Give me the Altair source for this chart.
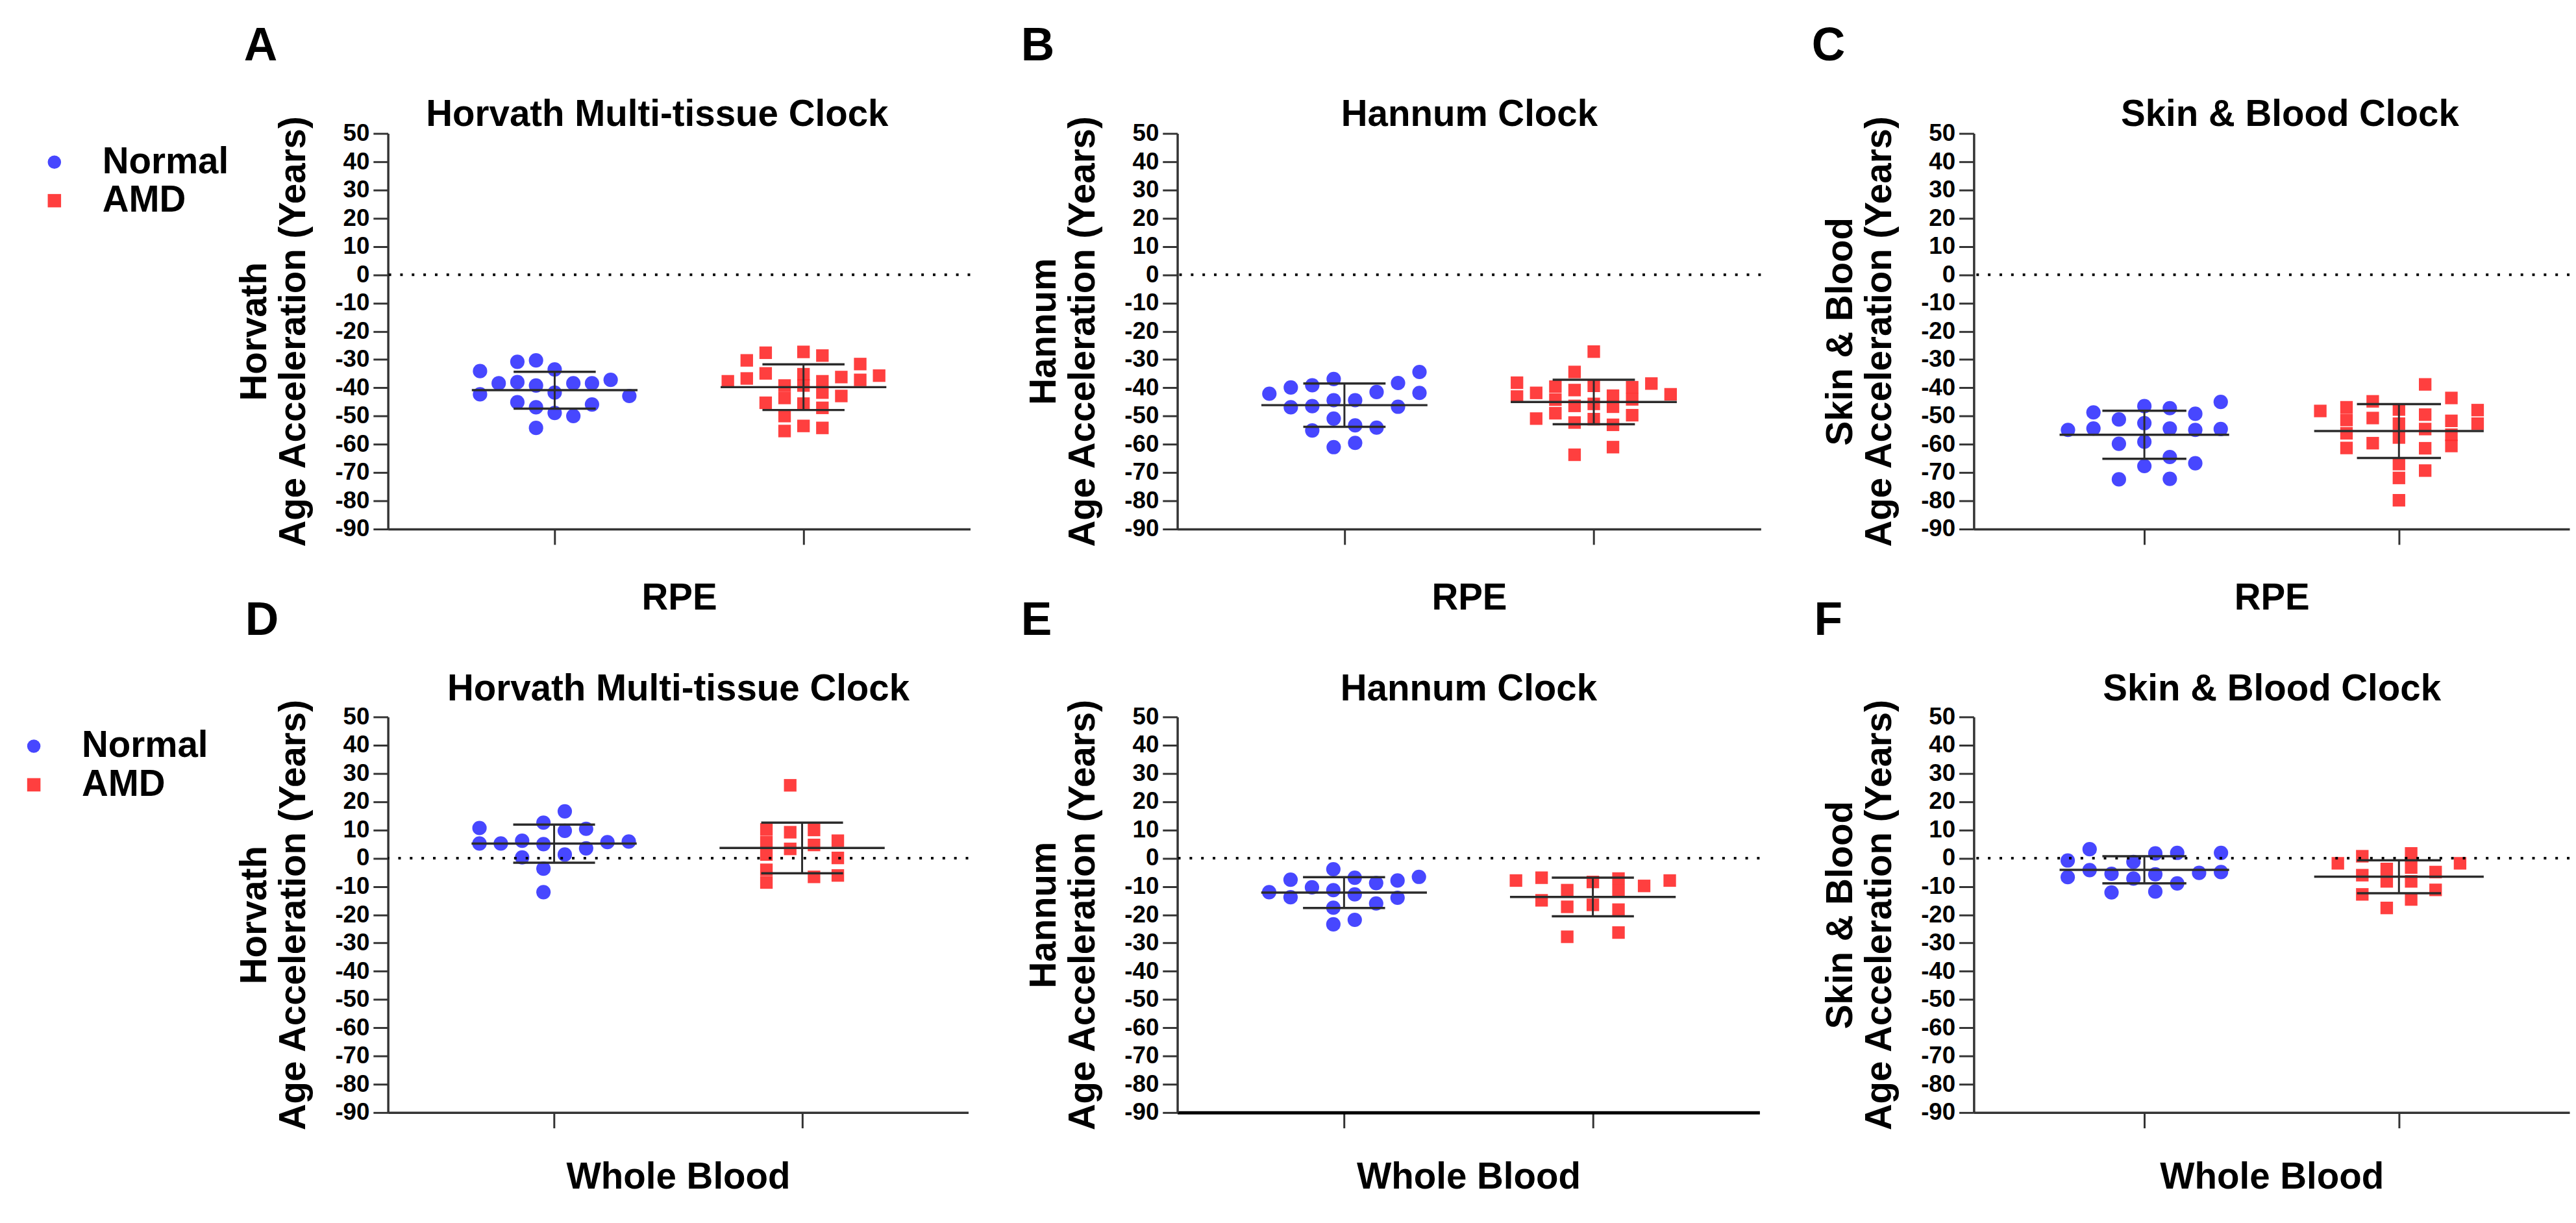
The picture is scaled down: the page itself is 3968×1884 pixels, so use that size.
import altair as alt
import pandas as pd

# ---------------- data ----------------
GROUPS = ["Normal", "AMD"]
TISSUES = ["RPE", "Whole Blood"]
LETTERS = ["A", "B", "C", "D", "E", "F"]
CLOCKS = ["Horvath Multi-tissue Clock", "Hannum Clock", "Skin & Blood Clock"]
CLOCK_SHORT = ["Horvath", "Hannum", "Skin & Blood"]
Y_TITLE_LINE2 = "Age Acceleration (Years)"
Y_TICKS = list(range(-90, 51, 10))

# values and the dot-plot column index (GraphPad scatter column) of each point
A_NORMAL = [-34.1, -30.8, -30.3, -33.5, -38.4, -38.0, -39.2, -38.4, -38.4, -37.2,
            -42.3, -41.7, -42.9, -45.1, -46.9, -45.9, -48.9, -50.0, -54.2]
A_NORMAL_COL = [-4, -2, -1, 0, -3, -2, -1, 1, 2, 3, -4, 0, 4, -2, -1, 2, 0, 1, -1]
A_AMD = [-27.6, -27.3, -28.6, -30.3, -31.6, -34.9, -36.7, -37.7, -36.2, -35.7, -37.2,
         -39.2, -43.6, -35.2, -39.2, -45.6, -37.7, -41.7, -47.1, -42.9, -45.3,
         -50.0, -55.3, -53.5, -54.2]
A_AMD_COL = [-2, 0, 1, -3, 3, -2, -3, -4, 2, 4, 3, -1, -1, 0, 0, 0, 1, 1, 1, 2, -2,
             -1, -1, 0, 1]

B_NORMAL = [-42.1, -39.9, -39.1, -36.9, -41.5, -38.3, -34.4, -41.8, -46.9, -46.5,
            -44.4, -44.4, -46.7, -50.9, -55.1, -53.3, -54.1, -61.0, -59.5]
B_NORMAL_COL = [-3.5, -2.5, -1.5, -0.5, 1.5, 2.5, 3.5, 3.5, -2.5, -1.5, -0.5, 0.5,
                2.5, -0.5, -1.5, 0.5, 1.5, -0.5, 0.5]
B_AMD = [-38.2, -43.1, -41.8, -50.9, -39.6, -44.2, -49.0, -34.4, -40.8, -46.4, -52.3,
         -63.7, -27.2, -39.3, -45.7, -51.1, -42.8, -46.7, -53.1, -61.0, -39.8, -44.1,
         -49.7, -38.5, -42.3]
B_AMD_COL = [-4, -4, -3, -3, -2, -2, -2, -1, -1, -1, -1, -1, 0, 0, 0, 0, 1, 1, 1, 1,
             2, 2, 2, 3, 4]

C_NORMAL = [-54.9, -48.7, -54.4, -51.2, -59.8, -72.4, -46.5, -52.5, -59.1, -67.7,
            -47.2, -54.4, -64.5, -72.2, -49.2, -54.9, -66.7, -45.0, -54.6]
C_NORMAL_COL = [-3, -2, -2, -1, -1, -1, 0, 0, 0, 0, 1, 1, 1, 1, 2, 2, 2, 3, 3]
C_AMD = [-48.2, -46.9, -51.4, -56.1, -61.3, -44.8, -50.7, -59.6, -47.7, -52.7, -57.6,
         -67.0, -71.9, -79.8, -38.8, -49.5, -54.6, -61.4, -69.3, -43.6, -51.7, -56.6,
         -60.6, -47.9, -52.7]
C_AMD_COL = [-3, -2, -2, -2, -2, -1, -1, -1, 0, 0, 0, 0, 0, 0, 1, 1, 1, 1, 1, 2, 2,
             2, 2, 3, 3]

D_NORMAL = [10.7, 5.2, 5.2, 6.2, 0.3, 12.6, 5.0, -3.7, -12.0, 16.6, 9.7, 1.3, 10.4,
            3.5, 5.7, 5.9]
D_NORMAL_COL = [-3.5, -3.5, -2.5, -1.5, -1.5, -0.5, -0.5, -0.5, -0.5, 0.5, 0.5, 0.5,
                1.5, 1.5, 2.5, 3.5]
D_AMD = [10.2, 5.7, 1.3, -4.1, -8.6, 25.8, 9.2, 3.3, 10.0, 4.7, -6.6, 6.2, 0.1, -6.1]
D_AMD_COL = [-1.5, -1.5, -1.5, -1.5, -1.5, -0.5, -0.5, -0.5, 0.5, 0.5, 0.5, 1.5, 1.5,
             1.5]

E_NORMAL = [-12.0, -7.6, -13.8, -10.3, -3.9, -11.3, -17.5, -23.4, -6.9, -12.8, -21.8,
            -8.8, -16.0, -7.9, -14.0, -6.6]
E_NORMAL_COL = [-3.5, -2.5, -2.5, -1.5, -0.5, -0.5, -0.5, -0.5, 0.5, 0.5, 0.5, 1.5,
                1.5, 2.5, 2.5, 3.5]
E_AMD = [-7.9, -6.9, -14.9, -11.3, -17.2, -27.8, -8.4, -16.5, -7.2, -11.6, -18.2,
         -26.3, -9.8, -7.9]
E_AMD_COL = [-3, -2, -2, -1, -1, -1, 0, 0, 1, 1, 1, 1, 2, 3]

F_NORMAL = [-0.8, -6.7, 3.2, -4.2, -5.5, -12.1, -1.3, -7.2, 1.7, -5.7, -11.8, 1.9,
            -8.9, -5.2, 1.9, -4.9]
F_NORMAL_COL = [-3.5, -3.5, -2.5, -2.5, -1.5, -1.5, -0.5, -0.5, 0.5, 0.5, 0.5, 1.5,
                1.5, 2.5, 3.5, 3.5]
F_AMD = [-1.8, 0.7, -6.0, -12.8, -3.8, -8.2, -17.6, 1.7, -3.3, -8.2, -14.6, -4.9,
         -11.2, -1.8]
F_AMD_COL = [-2.5, -1.5, -1.5, -1.5, -0.5, -0.5, -0.5, 0.5, 0.5, 0.5, 0.5, 1.5, 1.5,
             2.5]

# ---------------- style ----------------
FONT = "Liberation Sans"
BLUE = "#3333ff"
RED = "#ff2a2a"
LINE = "#2b2b2b"
AXIS = "#333333"
FS = 57
PLOT_H = 615
X_DOMAIN = [-0.67, 1.67]
MEAN_HALF = 0.333
CAP_HALF = 0.165

LEGEND_STYLE = dict(orient="none", title=None, labelFontSize=FS, labelFont=FONT,
                    labelFontWeight="bold", labelColor="black", symbolSize=430,
                    labelOffset=46, rowPadding=2, padding=0, symbolOpacity=0.9,
                    symbolStrokeWidth=0, labelLimit=1000)

PANELS = [
    dict(letter=LETTERS[0], clock=CLOCKS[0], short=CLOCK_SHORT[0], tissue=TISSUES[0],
         n=A_NORMAL, nc=A_NORMAL_COL, a=A_AMD, ac=A_AMD_COL, sn=0.075, sa=0.076,
         width=905, title_x=418, letter_dx=-224,
         legend=dict(legendX=-547, legendY=16), row=0),
    dict(letter=LETTERS[1], clock=CLOCKS[1], short=CLOCK_SHORT[1], tissue=TISSUES[0],
         n=B_NORMAL, nc=B_NORMAL_COL, a=B_AMD, ac=B_AMD_COL, sn=0.086, sa=0.077,
         width=907, title_x=None, letter_dx=-243, legend=None, row=0),
    dict(letter=LETTERS[2], clock=CLOCKS[2], short=CLOCK_SHORT[2], tissue=TISSUES[0],
         n=C_NORMAL, nc=C_NORMAL_COL, a=C_AMD, ac=C_AMD_COL, sn=0.100, sa=0.103,
         width=926, title_x=491, letter_dx=-252, legend=None, row=0),
    dict(letter=LETTERS[3], clock=CLOCKS[0], short=CLOCK_SHORT[0], tissue=TISSUES[1],
         n=D_NORMAL, nc=D_NORMAL_COL, a=D_AMD, ac=D_AMD_COL, sn=0.086, sa=0.096,
         width=902, title_x=None, letter_dx=-222,
         legend=dict(legendX=-579, legendY=17), row=1),
    dict(letter=LETTERS[4], clock=CLOCKS[1], short=CLOCK_SHORT[1], tissue=TISSUES[1],
         n=E_NORMAL, nc=E_NORMAL_COL, a=E_AMD, ac=E_AMD_COL, sn=0.086, sa=0.103,
         width=905, title_x=None, letter_dx=-243, legend=None, row=1,
         domain_width=5, domain_color="black"),
    dict(letter=LETTERS[5], clock=CLOCKS[2], short=CLOCK_SHORT[2], tissue=TISSUES[1],
         n=F_NORMAL, nc=F_NORMAL_COL, a=F_AMD, ac=F_AMD_COL, sn=0.086, sa=0.096,
         width=926, title_x=None, letter_dx=-248, legend=None, row=1),
]

ROW_STYLE = [dict(x_title_pad=54, top_title_pad=0, letter_offset=41),
             dict(x_title_pad=47, top_title_pad=14, letter_offset=41)]


def make_panel(p):
    recs = []
    for gi, (g, vals, cols, sp) in enumerate(
            [(GROUPS[0], p["n"], p["nc"], p["sn"]), (GROUPS[1], p["a"], p["ac"], p["sa"])]):
        for v, c in zip(vals, cols):
            recs.append({"group": g, "gi": gi, "value": v, "xpos": gi + c * sp})
    df = pd.DataFrame(recs)
    rs = ROW_STYLE[p["row"]]

    xs = alt.Scale(domain=X_DOMAIN, nice=False, zero=False)
    ys = alt.Scale(domain=[-90, 50], nice=False, zero=False)
    y_axis = alt.Axis(values=Y_TICKS, labelExpr="'' + datum.value", tickSize=23,
                      tickWidth=3, labelPadding=6, grid=False,
                      title=[p["short"], Y_TITLE_LINE2], titlePadding=35,
                      titleLineHeight=60, domainWidth=3.5)

    if p["legend"] is not None:
        leg = alt.Legend(**LEGEND_STYLE, **p["legend"])
    else:
        leg = None

    base = alt.Chart(df)

    points = base.mark_point(filled=True, opacity=0.9, strokeWidth=0).encode(
        x=alt.X("xpos:Q", scale=xs,
                axis=alt.Axis(values=[0, 1], labels=False, tickSize=24, tickWidth=3,
                              grid=False, title=p["tissue"],
                              titlePadding=rs["x_title_pad"],
                              domainWidth=p.get("domain_width", 3.5),
                              domainColor=p.get("domain_color", AXIS))),
        y=alt.Y("value:Q", scale=ys, axis=y_axis),
        color=alt.Color("group:N", scale=alt.Scale(domain=GROUPS, range=[BLUE, RED]),
                        legend=leg),
        shape=alt.Shape("group:N", scale=alt.Scale(domain=GROUPS, range=["circle", "square"]),
                        legend=leg),
        size=alt.condition(alt.datum.group == GROUPS[0], alt.value(500), alt.value(380)),
    )

    zero = alt.Chart(pd.DataFrame({"ref": [0]})).mark_rule(
        color="black", strokeWidth=4, strokeDash=[4, 14]).encode(
        y=alt.Y("ref:Q", scale=ys, axis=y_axis))

    top_axis = dict(orient="top", title=p["clock"], domain=False, ticks=False,
                    labels=False, grid=False, titlePadding=rs["top_title_pad"])
    if p["title_x"] is not None:
        top_axis["titleX"] = p["title_x"]

    mean = base.transform_aggregate(m="mean(value)", groupby=["gi"]).transform_calculate(
        x1=f"datum.gi - {MEAN_HALF}", x2=f"datum.gi + {MEAN_HALF}").mark_rule(
        color=LINE, strokeWidth=3.5).encode(
        x=alt.X("x1:Q", scale=xs, axis=alt.Axis(**top_axis)),
        x2="x2:Q",
        y=alt.Y("m:Q", scale=ys, axis=y_axis))

    sd = base.transform_aggregate(
        m="mean(value)", s="stdev(value)", groupby=["gi"]).transform_calculate(
        lo="datum.m - datum.s", hi="datum.m + datum.s",
        c1=f"datum.gi - {CAP_HALF}", c2=f"datum.gi + {CAP_HALF}")
    sd_v = sd.mark_rule(color=LINE, strokeWidth=3).encode(
        x=alt.X("gi:Q", scale=xs, axis=None),
        y=alt.Y("lo:Q", scale=ys, axis=y_axis), y2="hi:Q")
    sd_caps = sd.transform_fold(["lo", "hi"], as_=["k", "yv"]).mark_rule(
        color=LINE, strokeWidth=3.5).encode(
        x=alt.X("c1:Q", scale=xs, axis=None), x2="c2:Q",
        y=alt.Y("yv:Q", scale=ys, axis=y_axis))

    return alt.layer(points, zero, mean, sd_v, sd_caps).resolve_axis(
        x="independent").properties(
        width=p["width"], height=PLOT_H,
        title=alt.TitleParams(text=p["letter"], anchor="start", frame="group",
                              dx=p["letter_dx"], fontSize=72, font=FONT,
                              fontWeight="bold", color="black",
                              offset=rs["letter_offset"]))


charts = [make_panel(p) for p in PANELS]

chart = alt.concat(*charts, columns=3, spacing={"row": -30, "column": 77},
                   align="each").resolve_legend(
    color="independent", shape="independent").properties(
    padding={"left": 16, "top": 19, "right": 0, "bottom": 0}
).configure_view(stroke=None).configure_axis(
    labelFont=FONT, labelFontSize=37, labelFontWeight="bold", labelColor="black",
    titleFont=FONT, titleFontSize=FS, titleFontWeight="bold", titleColor="black",
    domainColor=AXIS, tickColor=AXIS
)

chart.save("out.html", embed_options={"renderer": "svg", "actions": False})
